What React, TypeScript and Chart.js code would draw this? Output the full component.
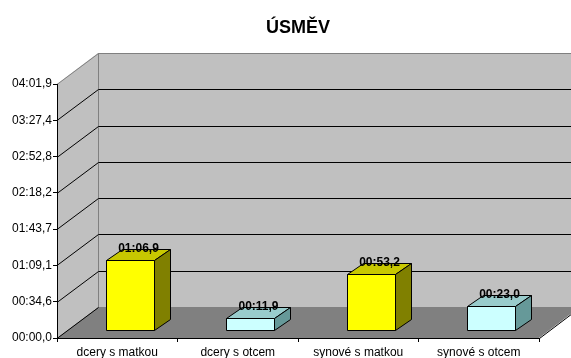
import React, { useEffect, useRef } from 'react';
import { Chart, registerables } from 'chart.js';

Chart.register(...registerables);

// ---- data ----
const categories = ['dcery s matkou', 'dcery s otcem', 'synové s matkou', 'synové s otcem'];
const durationsSec = [66.9, 11.9, 53.2, 23.0];
const barLabels = ['01:06,9', '00:11,9', '00:53,2', '00:23,0'];
const yTickValues = [0, 34.56, 69.12, 103.68, 138.24, 172.8, 207.36, 241.92];
const yTickLabels = ['00:00,0', '00:34,6', '01:09,1', '01:43,7', '02:18,2', '02:52,8', '03:27,4', '04:01,9'];
const titleText = 'ÚSMĚV';

// ---- styles ----
const FONT = 'Arial, "Liberation Sans", sans-serif';
const faceFront = ['#FFFF00', '#CCFFFF', '#FFFF00', '#CCFFFF'];
const faceTop = ['#C8C800', '#99CCCC', '#C8C800', '#99CCCC'];
const faceSide = ['#808000', '#669999', '#808000', '#669999'];
const WALL = '#C0C0C0';
const FLOOR = '#808080';
const DEPTH = { x: 41, y: 31 }; // box depth
const BAR_OFF = { x: 12.5, y: 8 }; // bar front face offset into depth
const BAR_DEPTH = { x: 16, y: 11 };

const scene3d = {
  id: 'scene3d',
  beforeDraw(chart: any) {
    const ctx = chart.ctx;
    const xs = chart.scales.x;
    const ys = chart.scales.y;
    const left = xs.left;
    const right = xs.right;
    const top = ys.getPixelForValue(yTickValues[yTickValues.length - 1]);
    const bottom = ys.getPixelForValue(0);
    const dx = DEPTH.x, dy = DEPTH.y;
    ctx.save();
    // back wall
    ctx.fillStyle = WALL;
    ctx.fillRect(left + dx, top - dy, right - left + dx, bottom - top);
    // left wall
    ctx.beginPath();
    ctx.moveTo(left, top);
    ctx.lineTo(left + dx, top - dy);
    ctx.lineTo(left + dx, bottom - dy);
    ctx.lineTo(left, bottom);
    ctx.closePath();
    ctx.fill();
    // wall edges
    ctx.strokeStyle = '#808080';
    ctx.lineWidth = 1;
    ctx.beginPath();
    ctx.moveTo(left, top + 0.5);
    ctx.lineTo(left + dx + 0.5, top - dy + 0.5);
    ctx.lineTo(chart.width + 10, top - dy + 0.5);
    ctx.moveTo(left + dx + 0.5, top - dy);
    ctx.lineTo(left + dx + 0.5, bottom - dy);
    ctx.stroke();
    // gridlines
    ctx.strokeStyle = '#000000';
    ctx.beginPath();
    for (let i = 1; i < yTickValues.length - 1; i++) {
      const y = Math.round(ys.getPixelForValue(yTickValues[i])) + 0.5;
      ctx.moveTo(left, y);
      ctx.lineTo(left + dx + 0.5, y - dy);
      ctx.lineTo(right + dx + 10, y - dy);
    }
    ctx.stroke();
    // floor
    ctx.fillStyle = FLOOR;
    ctx.beginPath();
    ctx.moveTo(left, bottom);
    ctx.lineTo(right, bottom);
    ctx.lineTo(right + dx, bottom - dy);
    ctx.lineTo(left + dx, bottom - dy);
    ctx.closePath();
    ctx.fill();
    ctx.strokeStyle = '#000000';
    ctx.beginPath();
    ctx.moveTo(left, bottom + 0.5);
    ctx.lineTo(left + dx + 0.5, bottom - dy + 0.5);
    ctx.moveTo(right + 0.5, bottom + 0.5);
    ctx.lineTo(right + dx + 0.5, bottom - dy + 0.5);
    ctx.stroke();
    ctx.restore();
  },
  afterDatasetsDraw(chart: any) {
    const ctx = chart.ctx;
    const ys = chart.scales.y;
    const meta = chart.getDatasetMeta(0);
    const base = ys.getPixelForValue(0);
    ctx.save();
    ctx.lineWidth = 1;
    ctx.strokeStyle = '#000000';
    meta.data.forEach((el: any, i: number) => {
      const w = el.width;
      const x0 = Math.round(el.x - w / 2 + BAR_OFF.x) + 0.5;
      const x1 = Math.round(el.x + w / 2 + BAR_OFF.x) + 0.5;
      const yb = Math.round(base - BAR_OFF.y) + 0.5;
      const yt = Math.round(el.y - BAR_OFF.y) + 0.5;
      const bx = BAR_DEPTH.x, by = BAR_DEPTH.y;
      // front
      ctx.fillStyle = faceFront[i];
      ctx.beginPath();
      ctx.rect(x0, yt, x1 - x0, yb - yt);
      ctx.fill();
      ctx.stroke();
      // top
      ctx.fillStyle = faceTop[i];
      ctx.beginPath();
      ctx.moveTo(x0, yt);
      ctx.lineTo(x1, yt);
      ctx.lineTo(x1 + bx, yt - by);
      ctx.lineTo(x0 + bx, yt - by);
      ctx.closePath();
      ctx.fill();
      ctx.stroke();
      // side
      ctx.fillStyle = faceSide[i];
      ctx.beginPath();
      ctx.moveTo(x1, yt);
      ctx.lineTo(x1 + bx, yt - by);
      ctx.lineTo(x1 + bx, yb - by);
      ctx.lineTo(x1, yb);
      ctx.closePath();
      ctx.fill();
      ctx.stroke();
      // value label
      ctx.fillStyle = '#000000';
      ctx.font = 'bold 12px ' + FONT;
      ctx.textAlign = 'center';
      ctx.textBaseline = 'middle';
      ctx.fillText(barLabels[i], (x0 + x1) / 2 + bx / 2, yt - by - 1);
    });
    ctx.restore();
  },
};

export default function App() {
  const ref = useRef<HTMLCanvasElement | null>(null);
  useEffect(() => {
    if (!ref.current) return;
    const chart = new Chart(ref.current, {
      type: 'bar',
      data: {
        labels: categories,
        datasets: [
          {
            data: durationsSec,
            backgroundColor: 'rgba(0,0,0,0)',
            borderWidth: 0,
            barPercentage: 0.4,
            categoryPercentage: 1,
          },
        ],
      },
      options: {
        responsive: false,
        animation: false,
        events: [],
        layout: { padding: { left: 0, right: 32, top: 0, bottom: 0 } },
        plugins: {
          legend: { display: false },
          tooltip: { enabled: false },
          title: {
            display: true,
            fullSize: false,
            text: titleText,
            color: '#000000',
            font: { family: FONT, size: 18, weight: 'bold' },
            padding: { top: 17, bottom: 45.4 },
          },
        },
        scales: {
          x: {
            type: 'category',
            offset: true,
            grid: {
              offset: true,
              drawOnChartArea: false,
              drawTicks: true,
              tickLength: 4,
              color: '#000000',
            },
            border: { display: true, color: '#000000', width: 1 },
            ticks: { color: '#000000', font: { family: FONT, size: 12 }, padding: 3, maxRotation: 0, autoSkip: false },
            afterFit: (s: any) => {
              s.height = 20;
            },
          },
          y: {
            type: 'linear',
            min: yTickValues[0],
            max: yTickValues[yTickValues.length - 1],
            afterBuildTicks: (s: any) => {
              s.ticks = yTickValues.map((v) => ({ value: v }));
            },
            grid: {
              drawOnChartArea: false,
              drawTicks: true,
              tickLength: 4,
              color: '#000000',
            },
            border: { display: true, color: '#000000', width: 1 },
            ticks: {
              color: '#000000',
              font: { family: FONT, size: 12 },
              padding: 1,
              callback: (_v: any, i: number) => yTickLabels[i],
            },
            afterFit: (s: any) => {
              s.width = 57;
            },
          },
        },
      },
      plugins: [scene3d],
    });
    return () => chart.destroy();
  }, []);
  return (
    <div style={{ position: 'fixed', left: 0, top: 0, width: 571, height: 358, background: '#ffffff' }}>
      <canvas ref={ref} width={571} height={358} style={{ display: 'block' }} />
    </div>
  );
}
